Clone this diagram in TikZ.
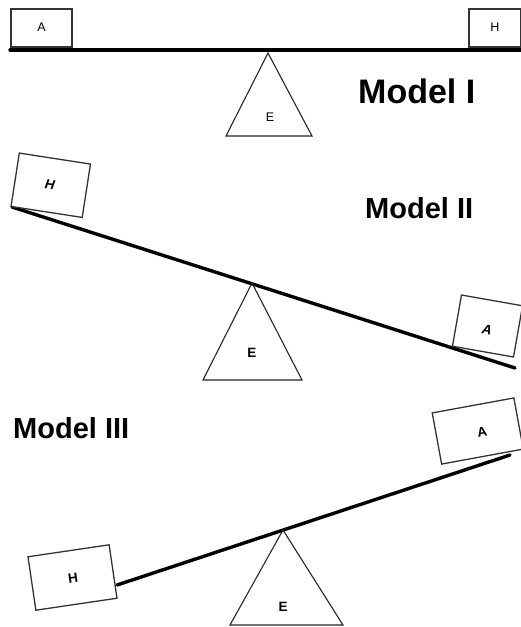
\documentclass[tikz,border=0pt]{standalone}
\usepackage{fontspec}
\setmainfont{Liberation Sans}
\begin{document}
\begin{tikzpicture}[x=1pt,y=-1pt,
  box/.style={draw=black!80, line width=1.3pt, fill=white, inner sep=0pt},
  beam/.style={line width=3.4pt, line cap=round},
  fulcrum/.style={draw=black!85, line width=1.1pt, line join=miter},
  title/.style={font=\bfseries\fontsize{34}{36}\selectfont, inner sep=0pt},
  lbl/.style={font=\fontsize{12.5}{13}\selectfont, inner sep=0pt},
  blbl/.style={font=\bfseries\fontsize{13.5}{14}\selectfont, inner sep=0pt},
  bilbl/.style={font=\bfseries\itshape\fontsize{13.5}{14}\selectfont, inner sep=0pt}]
\useasboundingbox (0,0) rectangle (520,627);

% ---------------- Model I ----------------
\coordinate (b1l) at (10,50);
\coordinate (b1r) at (522,50);
\draw[beam] (b1l) -- (b1r);
\node[box, minimum width=61pt, minimum height=38pt] (a1) at (41.5,28) {};
\node[lbl] (a1t) at (41.5,27) {A};
\node[box, minimum width=52pt, minimum height=38pt] (h1) at (495,28) {};
\node[lbl] (h1t) at (495,27) {H};
\coordinate (t1a) at (268,53);
\coordinate (t1l) at (226,136);
\coordinate (t1r) at (312,136);
\draw[fulcrum] (t1a) -- (t1l) -- (t1r) -- cycle;
\node[lbl] (e1) at (270,117) {E};
\node[title, anchor=base west] (m1) at (358,103) {Model I};

% ---------------- Model II ----------------
\coordinate (b2l) at (12,207);
\coordinate (b2r) at (515,368);
\draw[beam] (b2l) -- (b2r);
\node[box, minimum width=72pt, minimum height=54pt, rotate=-8.8] (h2) at (50.75,185.25) {};
\node[bilbl, rotate=-8.8] (h2t) at (50,185) {H};
\node[box, minimum width=62pt, minimum height=52pt, rotate=-10] (a2) at (487.5,326) {};
\node[bilbl, rotate=-10] (a2t) at (487,330) {A};
\coordinate (t2a) at (252,283);
\coordinate (t2l) at (203,380);
\coordinate (t2r) at (302,380);
\draw[fulcrum] (t2a) -- (t2l) -- (t2r) -- cycle;
\node[blbl] (e2) at (252,353) {E};
\node[title, font=\bfseries\fontsize{29}{31}\selectfont, anchor=base west] (m2) at (365,218) {Model II};

% ---------------- Model III ----------------
\node[title, font=\bfseries\fontsize{29}{31}\selectfont, anchor=base west] (m3) at (13,438) {Model III};
\node[box, minimum width=83pt, minimum height=52pt, rotate=10.4] (a3) at (477.75,431) {};
\node[blbl, rotate=10.4] (a3t) at (482,432) {A};
\node[box, minimum width=82pt, minimum height=54pt, rotate=8.4] (h3) at (72.5,577.5) {};
\node[blbl, rotate=8.4] (h3t) at (73,578) {H};
\coordinate (b3l) at (117,585);
\coordinate (b3r) at (510,455);
\draw[beam] (b3l) -- (b3r);
\coordinate (t3a) at (283,530);
\coordinate (t3l) at (230,625);
\coordinate (t3r) at (343,625);
\draw[fulcrum] (t3a) -- (t3l) -- (t3r) -- cycle;
\node[blbl] (e3) at (283,607) {E};
\end{tikzpicture}
\end{document}
